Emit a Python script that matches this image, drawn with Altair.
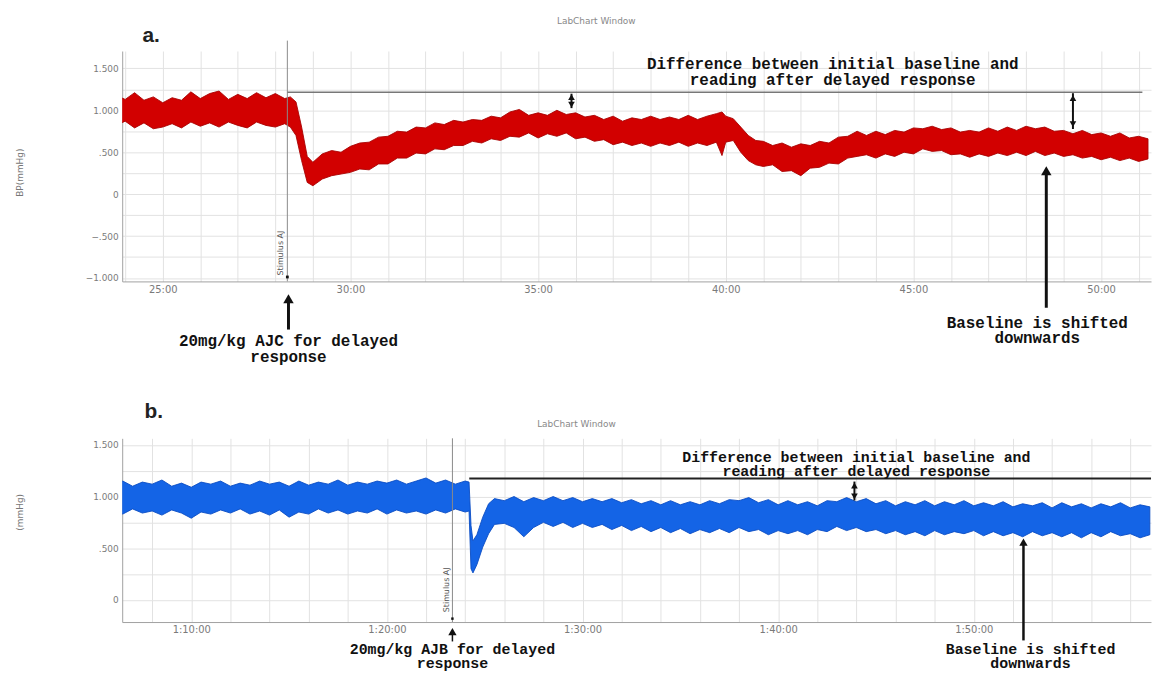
import altair as alt
import pandas as pd


def seg(start, step, n):
    return [round(start + step * i, 2) for i in range(n)]


# ---------------- Panel a: red trace (upper / lower envelope of the noisy signal) ----------------
A_T = (seg(23.75, 0.25, 19) + [28.4, 28.55, 28.7, 28.85, 29.0, 29.25, 29.5, 29.75]
       + seg(30.0, 0.25, 40) + [39.9, 40.0, 40.2, 40.4, 40.6, 40.8] + seg(41.0, 0.25, 42))
A_HI = [1.18, 1.13, 1.21, 1.12, 1.16, 1.09, 1.15, 1.12, 1.22, 1.14, 1.20, 1.23, 1.13, 1.19, 1.14, 1.21, 1.15, 1.20, 1.14,
        1.16, 1.10, 0.80, 0.45, 0.38, 0.48, 0.52, 0.50,
        0.57, 0.61, 0.62, 0.68, 0.69, 0.75, 0.74, 0.80, 0.79, 0.85,
        0.83, 0.88, 0.86, 0.89, 0.88, 0.93, 0.91, 0.98, 1.01, 0.94,
        0.97, 0.94, 1.00, 0.95, 0.97, 0.92, 0.94, 0.89, 0.93, 0.87,
        0.91, 0.89, 0.93, 0.89, 0.92, 0.89, 0.94, 0.89, 0.93, 0.96,
        0.98, 0.93, 0.90, 0.80, 0.70, 0.64,
        0.63, 0.58, 0.61, 0.56, 0.60, 0.58, 0.63, 0.61, 0.68, 0.69,
        0.75, 0.70, 0.75, 0.71, 0.76, 0.74, 0.79, 0.78, 0.81, 0.77,
        0.79, 0.74, 0.76, 0.74, 0.79, 0.75, 0.80, 0.76, 0.81, 0.78,
        0.80, 0.75, 0.76, 0.72, 0.76, 0.71, 0.73, 0.69, 0.73, 0.67,
        0.69, 0.66]
A_LO = [0.82, 0.87, 0.79, 0.85, 0.78, 0.80, 0.84, 0.79, 0.86, 0.81, 0.85, 0.80, 0.86, 0.82, 0.79, 0.86, 0.82, 0.80, 0.84,
        0.80, 0.70, 0.40, 0.14, 0.10, 0.18, 0.22, 0.24,
        0.26, 0.30, 0.29, 0.36, 0.36, 0.43, 0.43, 0.49, 0.48, 0.54,
        0.53, 0.58, 0.58, 0.63, 0.61, 0.66, 0.64, 0.69, 0.68, 0.73,
        0.67, 0.72, 0.69, 0.73, 0.66, 0.68, 0.63, 0.65, 0.59, 0.62,
        0.58, 0.61, 0.57, 0.61, 0.58, 0.62, 0.57, 0.61, 0.58, 0.62,
        0.46, 0.62, 0.64, 0.50, 0.40, 0.35,
        0.33, 0.35, 0.27, 0.28, 0.22, 0.31, 0.32, 0.37, 0.36, 0.43,
        0.45, 0.47, 0.43, 0.48, 0.45, 0.50, 0.48, 0.54, 0.51, 0.52,
        0.47, 0.48, 0.44, 0.48, 0.45, 0.49, 0.46, 0.50, 0.46, 0.51,
        0.46, 0.49, 0.45, 0.47, 0.43, 0.45, 0.41, 0.44, 0.40, 0.43,
        0.39, 0.42]

# ---------------- Panel b: blue trace ----------------
B_T = seg(66.0, 0.5, 37) + [84.2, 84.3, 84.4, 84.6, 84.9, 85.2, 85.5] + seg(86.0, 0.5, 67)
B_HI = [1.11, 1.15, 1.10, 1.14, 1.12, 1.16, 1.10, 1.13, 1.09, 1.14,
        1.12, 1.15, 1.10, 1.13, 1.11, 1.15, 1.12, 1.14, 1.10, 1.15,
        1.11, 1.14, 1.12, 1.16, 1.11, 1.14, 1.12, 1.15, 1.13, 1.16,
        1.12, 1.15, 1.18, 1.13, 1.16, 1.12, 1.15,
        1.14, 0.72, 0.57, 0.63, 0.80, 0.93, 0.98,
        0.96, 1.00, 0.95, 0.99, 0.96, 1.00, 0.96, 0.99, 0.95, 0.98,
        0.95, 0.98, 0.94, 0.97, 0.93, 0.96, 0.92, 0.96, 0.92, 0.95,
        0.92, 0.96, 0.93, 0.97, 0.96, 0.99, 0.94, 0.97, 0.92, 0.96,
        0.92, 0.95, 0.91, 0.96, 0.95, 0.99, 0.95, 0.98, 0.93, 0.96,
        0.91, 0.95, 0.92, 0.96, 0.91, 0.95, 0.92, 0.96, 0.91, 0.94,
        0.91, 0.95, 0.90, 0.93, 0.91, 0.94, 0.89, 0.94, 0.90, 0.93,
        0.89, 0.93, 0.90, 0.94, 0.89, 0.92, 0.90]
B_LO = [0.87, 0.83, 0.88, 0.84, 0.86, 0.82, 0.87, 0.84, 0.79, 0.85,
        0.83, 0.87, 0.84, 0.88, 0.83, 0.86, 0.82, 0.87, 0.80, 0.85,
        0.83, 0.88, 0.84, 0.87, 0.83, 0.86, 0.84, 0.88, 0.83, 0.87,
        0.84, 0.86, 0.83, 0.87, 0.84, 0.88, 0.85,
        0.86, 0.30, 0.26, 0.34, 0.51, 0.64, 0.73,
        0.74, 0.70, 0.61, 0.70, 0.75, 0.71, 0.75, 0.70, 0.74, 0.70,
        0.73, 0.68, 0.72, 0.67, 0.71, 0.66, 0.70, 0.65, 0.69, 0.64,
        0.68, 0.65, 0.69, 0.65, 0.70, 0.66, 0.68, 0.63, 0.67, 0.64,
        0.67, 0.63, 0.68, 0.66, 0.71, 0.67, 0.70, 0.66, 0.68, 0.64,
        0.67, 0.63, 0.66, 0.62, 0.67, 0.63, 0.66, 0.64, 0.67, 0.62,
        0.66, 0.62, 0.65, 0.61, 0.66, 0.62, 0.65, 0.61, 0.65, 0.60,
        0.65, 0.61, 0.66, 0.62, 0.64, 0.60, 0.63]

assert len(A_T) == len(A_HI) == len(A_LO)
assert len(B_T) == len(B_HI) == len(B_LO)

DIFF_1 = "Difference between initial baseline and"
DIFF_2 = "reading after delayed response"
SHIFT_1 = "Baseline is shifted"
SHIFT_2 = "downwards"

ANN = "Liberation Mono"
SANS = "DejaVu Sans"

Y_LAB = ("abs(datum.value*2 - round(datum.value*2)) < 0.001 ? "
         "(datum.value == 0 ? '0' : replace(format(datum.value, '.3f'), '0.', '.')) : ''")
A_XLAB = "datum.value % 5 == 0 ? format(datum.value, 'd') + ':00' : ''"
B_XLAB = ("datum.value % 10 == 0 ? floor(datum.value / 60) + ':' + "
          "format(datum.value % 60, '02d') + ':00' : ''")


def axes(xvals, xlab, yvals):
    common = dict(title=None, ticks=False, grid=True, gridColor="#e2e2e2", gridWidth=1,
                  domainColor="#a0a0a0", labelFont=SANS, labelColor="#7a7a7a",
                  labelOverlap=False)
    ax = alt.Axis(values=xvals, labelExpr=xlab, labelFontSize=10, labelPadding=3,
                  labelFlush=False, **common)
    ay = alt.Axis(values=yvals, labelExpr=Y_LAB, labelFontSize=9, labelPadding=4, **common)
    return ax, ay


class Panel:
    def __init__(self, xdom, ydom, ax, ay):
        self.sx = alt.Scale(domain=xdom, nice=False, zero=False)
        self.sy = alt.Scale(domain=ydom, nice=False, zero=False)
        self.ax, self.ay = ax, ay

    def X(self, f="t"):
        return alt.X(f + ":Q", scale=self.sx, axis=self.ax)

    def Y(self, f="v"):
        return alt.Y(f + ":Q", scale=self.sy, axis=self.ay)

    def trace(self, t, lo, hi, fill, edge):
        df = pd.DataFrame({"t": t, "lo": lo, "hi": hi})
        return alt.Chart(df).mark_area(clip=True, color=fill, stroke=edge, strokeWidth=0.9,
                                       opacity=1).encode(x=self.X(), y=self.Y("lo"), y2="hi:Q")

    def txt(self, rows, **mark):
        df = pd.DataFrame(rows, columns=["t", "v", "txt"])
        return alt.Chart(df).mark_text(**mark).encode(x=self.X(), y=self.Y(), text="txt:N")

    def vrules(self, rows, **mark):
        df = pd.DataFrame(rows, columns=["t", "v", "v2"])
        return alt.Chart(df).mark_rule(**mark).encode(x=self.X(), y=self.Y(), y2="v2:Q")

    def hrules(self, rows, **mark):
        df = pd.DataFrame(rows, columns=["t", "t2", "v"])
        return alt.Chart(df).mark_rule(**mark).encode(x=self.X(), x2="t2:Q", y=self.Y())

    def heads(self, rows, size):
        df = pd.DataFrame(rows, columns=["t", "v", "shape"])
        return alt.Chart(df).mark_point(filled=True, color="#111", opacity=1, size=size).encode(
            x=self.X(), y=self.Y(), shape=alt.Shape("shape:N", scale=None))


# ---------------- panel a ----------------
ax_a, ay_a = axes(list(range(24, 52)), A_XLAB, [-1 + 0.25 * i for i in range(11)])
A = Panel([23.92, 51.33], [-1.041, 1.707], ax_a, ay_a)
pa = alt.layer(
    A.trace(A_T, A_LO, A_HI, "#d20000", "#a80000"),
    A.vrules([[28.32, 1.831, -1.041]], color="#8a8a8a", strokeWidth=1),
    A.hrules([[28.32, 51.10, 1.216]], color="#777", strokeWidth=1.5),
    A.vrules([[35.89, 1.198, 1.026], [49.25, 1.204, 0.777]], color="#111", strokeWidth=2),
    A.heads([[35.89, 1.156, "triangle-up"], [35.89, 1.067, "triangle-down"],
             [49.25, 1.144, "triangle-up"], [49.25, 0.836, "triangle-down"]], 45),
    A.vrules([[48.54, -1.355, 0.256]], color="#111", strokeWidth=3),
    A.vrules([[28.35, -1.615, -1.260]], color="#111", strokeWidth=3),
    A.heads([[48.54, 0.280, "triangle-up"], [28.35, -1.248, "triangle-up"]], 110),
    A.heads([[28.32, -0.988, "square"]], 8),
    A.txt([[42.85, 1.547, DIFF_1], [42.85, 1.358, DIFF_2],
           [48.30, -1.532, SHIFT_1], [48.30, -1.721, SHIFT_2],
           [28.35, -1.757, "20mg/kg AJC for delayed"], [28.35, -1.947, "response"]],
          font=ANN, fontWeight="bold", fontSize=16, color="#111", align="center",
          baseline="middle"),
    A.txt([[28.27, -0.703, "Stimulus AJ"]], font=SANS, fontSize=8, color="#555", angle=270,
          align="center", baseline="bottom"),
    A.txt([[36.55, 2.068, "LabChart Window"]], font=SANS, fontSize=9, color="#888",
          align="center", baseline="middle"),
    A.txt([[24.46, 1.891, "a."]], font="Liberation Sans", fontSize=21, fontWeight="bold",
          color="#222", align="left", baseline="middle"),
    A.txt([[21.21, 0.256, "BP(mmHg)"]], font=SANS, fontSize=9, color="#777", angle=270,
          align="center", baseline="middle"),
    # white layout anchors (fix left / top extent of the drawing)
    A.vrules([[20.904, 0.0, 0.01]], color="white", strokeWidth=1),
    A.hrules([[30.0, 30.1, 2.169]], color="white", strokeWidth=1),
).properties(width=1036, height=232)

# ---------------- panel b ----------------
ax_b, ay_b = axes(list(range(68, 120, 2)), B_XLAB, [0.25 * i for i in range(7)])
B = Panel([66.47, 119.06], [-0.216, 1.564], ax_b, ay_b)
pb = alt.layer(
    B.trace(B_T, B_LO, B_HI, "#1464e6", "#0a4cc4"),
    B.vrules([[83.35, 1.564, -0.216]], color="#8a8a8a", strokeWidth=1),
    B.hrules([[84.21, 119.06, 1.174]], color="#222", strokeWidth=2),
    B.vrules([[103.9, 1.145, 0.962]], color="#111", strokeWidth=2),
    B.heads([[103.9, 1.107, "triangle-up"], [103.9, 1.001, "triangle-down"]], 45),
    B.vrules([[112.54, -0.394, 0.549]], color="#111", strokeWidth=2.5),
    B.vrules([[83.35, -0.404, -0.318]], color="#111", strokeWidth=1.5),
    B.heads([[112.54, 0.558, "triangle-up"], [83.35, -0.308, "triangle-up"]], 70),
    B.heads([[83.35, -0.183, "square"]], 6),
    B.txt([[104.0, 1.386, DIFF_1], [104.0, 1.251, DIFF_2],
           [112.9, -0.481, SHIFT_1], [112.9, -0.616, SHIFT_2],
           [83.35, -0.481, "20mg/kg AJB for delayed"], [83.35, -0.616, "response"]],
          font=ANN, fontWeight="bold", fontSize=15, color="#111", align="center",
          baseline="middle"),
    B.txt([[83.27, 0.096, "Stimulus AJ"]], font=SANS, fontSize=8, color="#555", angle=270,
          align="center", baseline="bottom"),
    B.txt([[89.69, 1.704, "LabChart Window"]], font=SANS, fontSize=9, color="#888",
          align="center", baseline="middle"),
    B.txt([[67.61, 1.819, "b."]], font="Liberation Sans", fontSize=21, fontWeight="bold",
          color="#222", align="left", baseline="middle"),
    B.txt([[61.27, 0.847, "(mmHg)"]], font=SANS, fontSize=9, color="#777", angle=270,
          align="center", baseline="middle"),
).properties(width=1036, height=185)

chart = alt.vconcat(pa, pb, spacing=158, bounds="flush", padding=0).configure_view(
    stroke="transparent")

chart.save("out.html", embed_options={"renderer": "svg", "actions": False})
